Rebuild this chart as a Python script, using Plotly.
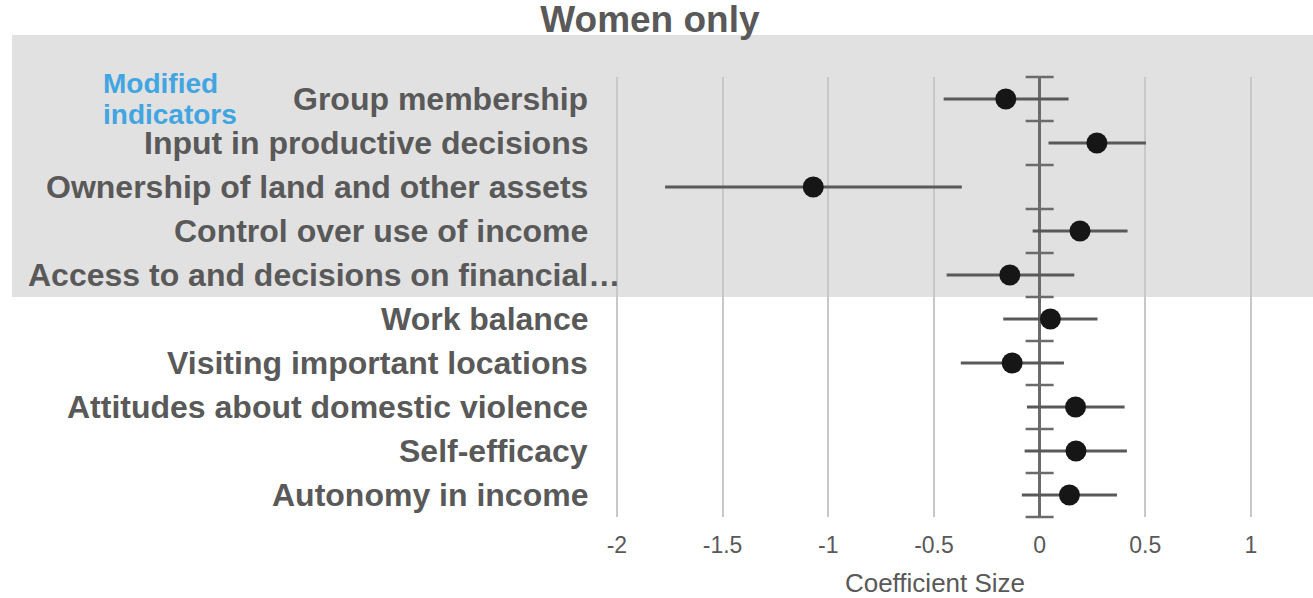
import plotly.graph_objects as go

categories = [
    "Group membership",
    "Input in productive decisions",
    "Ownership of land and other assets",
    "Control over use of income",
    "Access to and decisions on financial…",
    "Work balance",
    "Visiting important locations",
    "Attitudes about domestic violence",
    "Self-efficacy",
    "Autonomy in income",
]
coef = [-0.16, 0.271, -1.071, 0.191, -0.141, 0.051, -0.130, 0.170, 0.172, 0.141]
ci_low = [-0.454, 0.042, -1.772, -0.033, -0.440, -0.172, -0.373, -0.060, -0.071, -0.084]
ci_high = [0.137, 0.503, -0.368, 0.416, 0.164, 0.274, 0.115, 0.402, 0.413, 0.366]
n_modified = 5
x_ticks = [-2, -1.5, -1, -0.5, 0, 0.5, 1]
x_ticklabels = ["-2", "-1.5", "-1", "-0.5", "0", "0.5", "1"]

FONT = "Liberation Sans, Arial, sans-serif"
GRAY = "#595959"

W, H = 1313, 598
ML, MR, MT, MB = 600, 43, 77, 81
PW, PH = W - ML - MR, H - MT - MB


def px_x(p):
    return (p - ML) / PW


def px_y(p):
    return (H - MB - p) / PH


ypos = list(range(1, len(categories) + 1))
err_plus = [h - c for h, c in zip(ci_high, coef)]
err_minus = [c - l for c, l in zip(coef, ci_low)]

fig = go.Figure()

# category boundary ticks along zero line
bounds = [i + 0.5 for i in range(0, len(categories) + 1)]
fig.add_trace(go.Scatter(
    x=[0] * len(bounds), y=bounds, mode="markers",
    marker=dict(symbol="line-ew", size=20, line=dict(color="#6b6b6b", width=2.5)),
    hoverinfo="skip", showlegend=False, cliponaxis=False,
))

fig.add_trace(go.Scatter(
    x=coef, y=ypos, mode="markers",
    marker=dict(size=21, color="#161616"),
    error_x=dict(type="data", array=err_plus, arrayminus=err_minus,
                 width=0, thickness=3, color=GRAY),
    showlegend=False,
))

# shaded band for modified indicators
fig.add_shape(type="rect", xref="paper", yref="paper",
              x0=px_x(12), x1=px_x(W + 5), y0=1 - n_modified / len(categories), y1=px_y(35),
              fillcolor="#e1e1e1", line=dict(width=0), layer="below")

for cat, y in zip(categories, ypos):
    xr = px_x(590)
    if cat.endswith("…"):
        xr = px_x(622)
    fig.add_annotation(
        x=xr, xref="paper", y=y, yref="y", text=cat, showarrow=False,
        xanchor="right", yanchor="middle",
        font=dict(family=FONT, size=32, color=GRAY, weight="bold"),
    )

for txt, yc in [("Modified", 84), ("indicators", 114)]:
    fig.add_annotation(
        x=px_x(101), xref="paper", y=px_y(yc), yref="paper", text=txt,
        showarrow=False, xanchor="left", yanchor="middle", align="left",
        font=dict(family=FONT, size=28, color="#41a5e1", weight="bold"),
    )

fig.update_layout(
    width=W, height=H,
    margin=dict(l=ML, r=MR, t=MT, b=MB, autoexpand=False),
    plot_bgcolor="rgba(0,0,0,0)", paper_bgcolor="white",
    title=dict(text="<b>Women only</b>", x=0.495, xanchor="center", y=0.99, yanchor="top",
               font=dict(family=FONT, size=37, color=GRAY)),
    xaxis=dict(range=[-2.08, 1.09], tickvals=x_ticks, ticktext=x_ticklabels,
               automargin=False,
               showgrid=True, gridcolor="#c8c8c8", gridwidth=1.5,
               zeroline=True, zerolinecolor="#6b6b6b", zerolinewidth=2.5,
               showline=False, ticks="", ticklabelstandoff=12,
               tickfont=dict(family=FONT, size=23, color=GRAY),
               title=dict(text="Coefficient Size", standoff=17,
                          font=dict(family=FONT, size=26, color=GRAY))),
    yaxis=dict(range=[10.5, 0.5], showticklabels=False, showgrid=False,
               automargin=False,
               zeroline=False, showline=False, ticks=""),
)

fig.write_html("out.html")
